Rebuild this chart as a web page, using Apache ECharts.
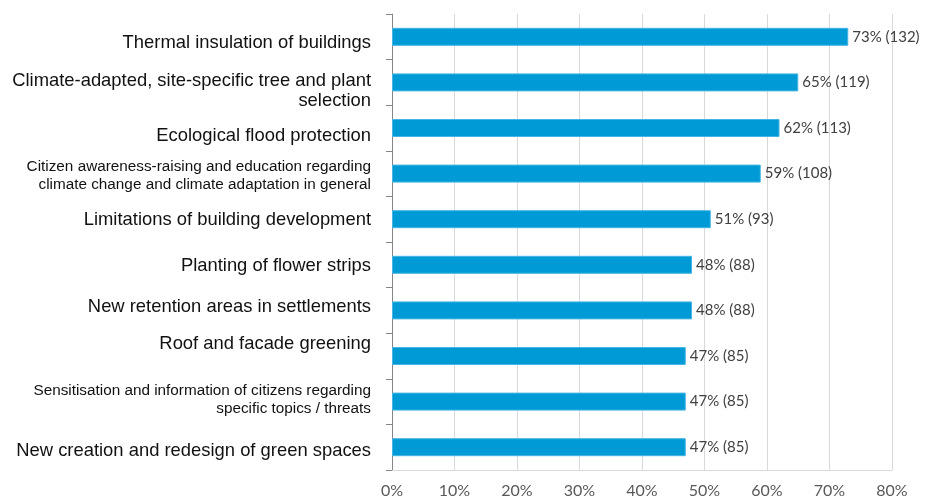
<!DOCTYPE html>
<html>
<head>
<meta charset="utf-8">
<script src="https://cdn.jsdelivr.net/npm/echarts@6/dist/echarts.min.js"></script>
<style>
  html, body { margin: 0; padding: 0; background: #fff; }
  #chart { width: 928px; height: 501px; }
</style>
</head>
<body>
<div id="chart"></div>
<script>
// measures, top to bottom
const categories = [
  "Thermal insulation of buildings",
  "Climate-adapted, site-specific tree and plant\nselection",
  "Ecological flood protection",
  "Citizen awareness-raising and education regarding\nclimate change and climate adaptation in general",
  "Limitations of building development",
  "Planting of flower strips",
  "New retention areas in settlements",
  "Roof and facade greening",
  "Sensitisation and information of citizens regarding\nspecific topics / threats",
  "New creation and redesign of green spaces"
];
const percents = [73, 65, 62, 59, 51, 48, 48, 47, 47, 47];
const counts = [132, 119, 113, 108, 93, 88, 88, 85, 85, 85];

// label tweaks (small font for the long two-liners, vertical nudge in px)
const smallLabel = [false, false, false, true, false, false, false, false, true, false];
const labelShift = [6, 9, 8, 2, 1, 1, -3, -12, -2, 4];

const chart = echarts.init(document.getElementById("chart"));

// rich styles: text sizes + spacer lines used to nudge labels up/down
const rich = {
  big: { fontSize: 18.4, lineHeight: 20, fontFamily: "Liberation Sans", color: "#111" },
  small: { fontSize: 15.3, lineHeight: 18, fontFamily: "Liberation Sans", color: "#111" }
};
labelShift.forEach(s => {
  const h = Math.abs(s) * 2;
  if (h) rich["gap" + h] = { fontSize: 1, lineHeight: h };
});

function catLabel(value, index) {
  const key = smallLabel[index] ? "small" : "big";
  let lines = value.split("\n").map(l => "{" + key + "|" + l + "}");
  const s = labelShift[index];
  const gap = "{gap" + Math.abs(s) * 2 + "| }";
  if (s > 0) lines.unshift(gap);
  if (s < 0) lines.push(gap);
  return lines.join("\n");
}

const option = {
  animation: false,
  grid: { left: 392, right: 36, top: 14, bottom: 31 },
  xAxis: {
    type: "value",
    min: 0,
    max: 80,
    interval: 10,
    axisLine: { show: true, lineStyle: { color: "#d9d9d9" } },
    axisTick: { show: false },
    splitLine: { lineStyle: { color: "#d9d9d9", width: 1 } },
    axisLabel: {
      formatter: v => v + "%",
      color: "#595959",
      fontFamily: "Lato",
      fontSize: 16,
      margin: 13
    }
  },
  yAxis: {
    type: "category",
    inverse: true,
    data: categories,
    axisLine: { show: true, lineStyle: { color: "#868686" } },
    axisTick: { show: true, length: 6, lineStyle: { color: "#868686" } },
    splitLine: { show: false },
    axisLabel: {
      align: "right",
      margin: 21,
      formatter: catLabel,
      rich: rich
    }
  },
  series: [
    {
      type: "bar",
      data: percents,
      barWidth: 18,
      itemStyle: { color: "#009bd6", borderColor: "#45b5e3", borderWidth: 1 },
      label: {
        show: true,
        position: "right",
        distance: 4,
        color: "#404040",
        fontFamily: "Lato",
        fontSize: 15,
        formatter: p => percents[p.dataIndex] + "% (" + counts[p.dataIndex] + ")"
      }
    }
  ]
};

chart.setOption(option);
</script>
</body>
</html>
